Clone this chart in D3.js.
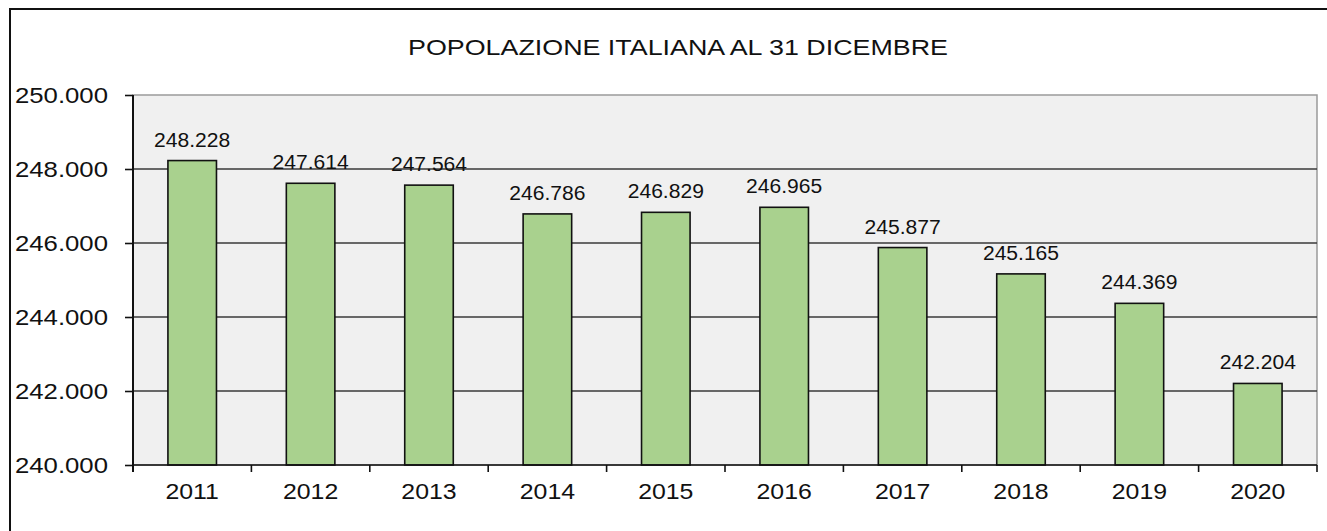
<!DOCTYPE html>
<html lang="it">
<head>
<meta charset="UTF-8">
<title>Popolazione italiana al 31 dicembre</title>
<script src="https://d3js.org/d3.v7.min.js"></script>
<style>
  body { margin: 0; background: #fff; }
  text { font-family: "Liberation Sans", Arial, sans-serif; fill: #111; }
  .grid line { stroke: #3a3a3a; stroke-width: 1.3; }
  .bar { fill: #a9d18e; stroke: #111; stroke-width: 1.6; }
</style>
</head>
<body>
<svg id="chart" width="1327" height="531"></svg>
<script>
// data
const years = ["2011", "2012", "2013", "2014", "2015", "2016", "2017", "2018", "2019", "2020"];
const population = [248228, 247614, 247564, 246786, 246829, 246965, 245877, 245165, 244369, 242204];
const yTicks = [240000, 242000, 244000, 246000, 248000, 250000];
const chartTitle = "POPOLAZIONE ITALIANA AL 31 DICEMBRE";

const svg = d3.select("#chart");
const plotL = 133, plotR = 1317, plotT = 95, plotB = 465;

const fmt = v => d3.format(",")(v).replace(/,/g, ".");

// stretch text horizontally a bit, the original looks wider than Arial
function stretch(sel, k) {
    sel.each(function () {
        const w = this.getComputedTextLength();
        d3.select(this).attr("textLength", w * k).attr("lengthAdjust", "spacingAndGlyphs");
    });
}

// outer frame
svg.append("rect")
   .attr("x", 10).attr("y", 9)
   .attr("width", 1330).attr("height", 540)
   .attr("fill", "none").attr("stroke", "#111").attr("stroke-width", 2);

const x = d3.scaleBand().domain(years).range([plotL, plotR])
    .paddingInner(0.59).paddingOuter(0.295);
const xCat = d3.scaleBand().domain(years).range([plotL, plotR]).padding(0);
const y = d3.scaleLinear().domain([240000, 250000]).range([plotB, plotT]);

// plot area
svg.append("rect")
   .attr("x", plotL).attr("y", plotT)
   .attr("width", plotR - plotL).attr("height", plotB - plotT)
   .attr("fill", "#f0f0f0").attr("stroke", "#9a9a9a").attr("stroke-width", 1.5);

// gridlines
svg.append("g").attr("class", "grid")
   .selectAll("line")
   .data(yTicks.slice(1, -1))
   .enter().append("line")
   .attr("x1", plotL).attr("x2", plotR)
   .attr("y1", d => y(d)).attr("y2", d => y(d));

// bars
svg.selectAll(".bar")
   .data(population)
   .enter().append("rect")
   .attr("class", "bar")
   .attr("x", (d, i) => x(years[i]))
   .attr("y", d => y(d))
   .attr("width", x.bandwidth())
   .attr("height", d => plotB - y(d));

// value labels
svg.selectAll(".val")
   .data(population)
   .enter().append("text")
   .attr("class", "val")
   .attr("x", (d, i) => x(years[i]) + x.bandwidth() / 2)
   .attr("y", d => y(d) - 14)
   .attr("text-anchor", "middle")
   .attr("font-size", "19.5px")
   .text(d => fmt(d))
   .call(stretch, 1.08);

// y axis
const yAxis = svg.append("g")
   .attr("transform", `translate(${plotL},0)`)
   .call(d3.axisLeft(y).tickValues(yTicks).tickSize(8).tickFormat(fmt));
yAxis.select(".domain").attr("d", `M0,${plotT}V${plotB + 7}`).attr("stroke", "#111").attr("stroke-width", 2);
yAxis.selectAll(".tick line").attr("stroke", "#111").attr("stroke-width", 1.6);
yAxis.selectAll(".tick text")
   .attr("x", -25).attr("dy", "0.35em")
   .attr("font-size", "22px")
   .attr("font-family", null)
   .attr("fill", "#111")
   .call(stretch, 1.17);

// x axis: ticks on category boundaries
const xAxis = svg.append("g").attr("transform", `translate(0,${plotB})`);
xAxis.append("line")
   .attr("x1", plotL).attr("x2", plotR)
   .attr("stroke", "#111").attr("stroke-width", 1.6);
xAxis.selectAll(".xt")
   .data(years.concat(["end"]))
   .enter().append("line")
   .attr("x1", d => d === "end" ? plotR : xCat(d))
   .attr("x2", d => d === "end" ? plotR : xCat(d))
   .attr("y1", 0).attr("y2", 7)
   .attr("stroke", "#111").attr("stroke-width", 1.6);
xAxis.selectAll(".xl")
   .data(years)
   .enter().append("text")
   .attr("x", d => x(d) + x.bandwidth() / 2)
   .attr("y", 34)
   .attr("text-anchor", "middle")
   .attr("font-size", "22px")
   .text(d => d)
   .call(stretch, 1.13);

// title
svg.append("text")
   .attr("x", 678).attr("y", 55)
   .attr("text-anchor", "middle")
   .attr("font-size", "22px")
   .attr("textLength", 540)
   .attr("lengthAdjust", "spacingAndGlyphs")
   .text(chartTitle);
</script>
</body>
</html>
